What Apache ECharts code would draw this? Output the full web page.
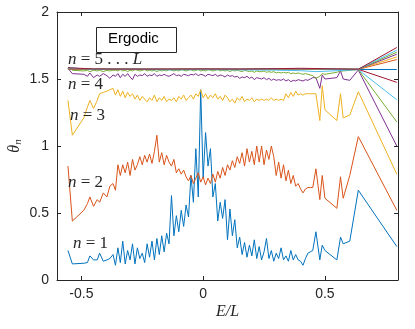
<!DOCTYPE html>
<html>
<head>
<meta charset="utf-8">
<script src="https://cdn.jsdelivr.net/npm/echarts@6/dist/echarts.min.js"></script>
<style>
	html, body { margin: 0; padding: 0; background: #fff; }
	#chart { width: 415px; height: 329px; }
</style>
</head>
<body>
<div id="chart"></div>
<script>
// E/L 取样点 (n = 1..5 共用)
var energy = [-0.555, -0.537, -0.49, -0.475, -0.465, -0.45, -0.435, -0.425, -0.41, -0.395, -0.383, -0.37,
	-0.36, -0.35, -0.34, -0.33, -0.32, -0.31, -0.3, -0.29, -0.28, -0.27,
	-0.26, -0.25, -0.24, -0.23, -0.22, -0.21, -0.2, -0.19, -0.18, -0.17,
	-0.16, -0.15, -0.14, -0.13, -0.12, -0.11, -0.1, -0.09, -0.08, -0.07,
	-0.06, -0.05, -0.04, -0.03, -0.02, -0.01, 0, 0.01, 0.02, 0.03,
	0.04, 0.05, 0.06, 0.07, 0.08, 0.09, 0.1, 0.11, 0.12, 0.13,
	0.14, 0.15, 0.16, 0.17, 0.18, 0.19, 0.2, 0.21, 0.22, 0.23,
	0.24, 0.25, 0.26, 0.27, 0.28, 0.29, 0.3, 0.31, 0.32, 0.33,
	0.34, 0.35, 0.36, 0.37, 0.38, 0.39, 0.4, 0.41, 0.42, 0.43, 0.44, 0.45,
	0.463, 0.479, 0.489, 0.5, 0.549, 0.564, 0.575, 0.602, 0.637, 0.795];

var theta1 = [0.22, 0.12, 0.125, 0.13, 0.18, 0.15, 0.15, 0.20, 0.14, 0.15, 0.16, 0.19,
	0.11, 0.24, 0.13, 0.29, 0.12, 0.22, 0.15, 0.27, 0.12, 0.24,
	0.16, 0.20, 0.13, 0.27, 0.17, 0.29, 0.15, 0.31, 0.19, 0.33,
	0.21, 0.35, 0.27, 0.63, 0.33, 0.48, 0.36, 0.52, 0.40, 0.56,
	0.47, 0.78, 0.58, 0.98, 0.62, 1.42, 0.76, 1.10, 0.85, 0.98,
	0.62, 0.72, 0.44, 0.58, 0.46, 0.60, 0.30, 0.53, 0.33, 0.45,
	0.24, 0.32, 0.19, 0.28, 0.17, 0.26, 0.18, 0.30, 0.16, 0.25,
	0.15, 0.21, 0.31, 0.16, 0.22, 0.14, 0.20, 0.16, 0.24, 0.15,
	0.18, 0.14, 0.22, 0.15, 0.19, 0.15, 0.14, 0.11, 0.16, 0.20, 0.21, 0.22,
	0.36, 0.15, 0.26, 0.22, 0.15, 0.32, 0.27, 0.29, 0.67, 0.25];

var theta2 = [0.85, 0.44, 0.52, 0.57, 0.62, 0.55, 0.60, 0.58, 0.65, 0.62, 0.70, 0.72,
	0.67, 0.86, 0.78, 0.86, 0.80, 0.88, 0.78, 0.90, 0.82, 0.86,
	0.92, 0.86, 0.93, 0.88, 0.94, 0.87, 0.96, 1.08, 0.88, 0.95,
	0.86, 0.93, 0.88, 0.85, 0.90, 0.80, 0.83, 0.79, 0.82, 0.77,
	0.74, 0.78, 0.72, 0.76, 0.80, 0.73, 0.77, 0.71, 0.76, 0.72,
	0.79, 0.73, 0.81, 0.76, 0.84, 0.78, 0.86, 0.82, 0.89, 0.84,
	0.92, 0.87, 0.95, 0.85, 0.98, 0.88, 0.96, 0.86, 1.00, 0.88,
	1.00, 0.86, 0.97, 0.90, 1.00, 0.92, 0.78, 0.88, 0.76, 0.86,
	0.74, 0.82, 0.72, 0.78, 0.70, 0.72, 0.68, 0.65, 0.68, 0.69, 0.69, 0.69,
	0.83, 0.60, 0.78, 0.61, 0.535, 0.77, 0.61, 0.78, 1.07, 0.52];

var theta3 = [1.34, 1.08, 1.21, 1.29, 1.34, 1.28, 1.34, 1.39, 1.40, 1.41, 1.42, 1.43,
	1.38, 1.42, 1.37, 1.41, 1.36, 1.40, 1.37, 1.39, 1.35, 1.38,
	1.34, 1.37, 1.35, 1.33, 1.36, 1.34, 1.38, 1.33, 1.36, 1.34,
	1.37, 1.33, 1.35, 1.34, 1.36, 1.33, 1.37, 1.35, 1.38, 1.34,
	1.36, 1.38, 1.35, 1.39, 1.37, 1.42, 1.36, 1.39, 1.35, 1.38,
	1.36, 1.39, 1.35, 1.37, 1.34, 1.38, 1.36, 1.33, 1.35, 1.32,
	1.36, 1.34, 1.37, 1.33, 1.35, 1.34, 1.36, 1.33, 1.35, 1.34,
	1.35, 1.34, 1.35, 1.34, 1.36, 1.34, 1.35, 1.34, 1.35, 1.34,
	1.39, 1.36, 1.40, 1.37, 1.41, 1.38, 1.39, 1.38, 1.39, 1.39, 1.39, 1.39,
	1.39, 1.19, 1.45, 1.27, 1.19, 1.39, 1.21, 1.23, 1.405, 0.79];

var theta4 = [1.58, 1.54, 1.535, 1.52, 1.545, 1.51, 1.53, 1.52, 1.54, 1.525, 1.505, 1.53,
	1.52, 1.54, 1.51, 1.535, 1.52, 1.54, 1.515, 1.495, 1.535, 1.52,
	1.53, 1.525, 1.54, 1.52, 1.53, 1.525, 1.54, 1.52, 1.53, 1.525,
	1.535, 1.525, 1.52, 1.53, 1.54, 1.525, 1.53, 1.52, 1.535, 1.53,
	1.525, 1.535, 1.53, 1.54, 1.525, 1.535, 1.53, 1.52, 1.535, 1.53,
	1.525, 1.535, 1.52, 1.53, 1.525, 1.515, 1.53, 1.52, 1.525, 1.515,
	1.52, 1.505, 1.515, 1.51, 1.52, 1.505, 1.515, 1.495, 1.51, 1.505,
	1.50, 1.51, 1.495, 1.505, 1.49, 1.50, 1.49, 1.495, 1.49, 1.50,
	1.485, 1.495, 1.48, 1.49, 1.485, 1.495, 1.49, 1.485, 1.495, 1.49, 1.50, 1.51,
	1.51, 1.43, 1.53, 1.50, 1.51, 1.56, 1.50, 1.49, 1.567, 1.0];

var theta5 = [1.59, 1.565, 1.56, 1.565, 1.555, 1.565, 1.56, 1.565, 1.555, 1.565, 1.56, 1.565,
	1.565, 1.56, 1.57, 1.56, 1.565, 1.555, 1.565, 1.56, 1.57, 1.565,
	1.56, 1.565, 1.57, 1.56, 1.565, 1.56, 1.565, 1.555, 1.565, 1.56,
	1.565, 1.56, 1.57, 1.565, 1.56, 1.565, 1.56, 1.57, 1.565, 1.56,
	1.565, 1.57, 1.56, 1.565, 1.57, 1.56, 1.565, 1.56, 1.57, 1.565,
	1.56, 1.565, 1.57, 1.56, 1.565, 1.56, 1.565, 1.555, 1.565, 1.56,
	1.565, 1.56, 1.555, 1.565, 1.56, 1.555, 1.56, 1.55, 1.56, 1.555,
	1.555, 1.56, 1.55, 1.555, 1.55, 1.555, 1.545, 1.55, 1.545, 1.55,
	1.545, 1.55, 1.54, 1.545, 1.54, 1.545, 1.54, 1.535, 1.54, 1.535, 1.53, 1.525,
	1.505, 1.52, 1.54, 1.535, 1.55, 1.56, 1.56, 1.565, 1.57, 1.18];

// n = 6 ... 14 几乎是平的，取稀疏点
var energyFlat = [-0.555, -0.45, -0.3, -0.15, 0, 0.15, 0.3, 0.4, 0.463, 0.55, 0.637, 0.795];
var theta6 = [1.585, 1.57, 1.572, 1.568, 1.57, 1.568, 1.566, 1.562, 1.555, 1.562, 1.57, 1.345];
var theta7 = [1.575, 1.572, 1.573, 1.572, 1.574, 1.572, 1.575, 1.578, 1.575, 1.573, 1.572, 1.475];
var theta8 = [1.571, 1.571, 1.571, 1.571, 1.571, 1.571, 1.571, 1.571, 1.571, 1.571, 1.571, 1.571];
var theta9 = [1.574, 1.572, 1.572, 1.573, 1.572, 1.572, 1.573, 1.574, 1.573, 1.572, 1.572, 1.645];
var theta10 = [1.576, 1.573, 1.572, 1.572, 1.573, 1.572, 1.574, 1.575, 1.574, 1.573, 1.572, 1.665];
var theta11 = [1.578, 1.573, 1.573, 1.572, 1.573, 1.573, 1.574, 1.576, 1.575, 1.573, 1.572, 1.685];
var theta12 = [1.58, 1.574, 1.573, 1.573, 1.573, 1.573, 1.575, 1.577, 1.576, 1.574, 1.573, 1.70];
var theta13 = [1.582, 1.574, 1.574, 1.573, 1.574, 1.573, 1.576, 1.578, 1.577, 1.574, 1.573, 1.715];
var theta14 = [1.584, 1.575, 1.574, 1.574, 1.575, 1.574, 1.577, 1.58, 1.578, 1.575, 1.573, 1.735];

var xTicks = [-0.5, 0, 0.5];
var lineColors = ['#0072BD', '#D95319', '#EDB120', '#7E2F8E', '#77AC30', '#4DBEEE', '#A2142F'];

var denseSets = [theta1, theta2, theta3, theta4, theta5];
var flatSets = [theta6, theta7, theta8, theta9, theta10, theta11, theta12, theta13, theta14];

function pairUp(xs, ys) {
	return ys.map(function(v, i) {
		return [xs[i], v];
	});
}

var seriesArr = [];
denseSets.concat(flatSets).forEach(function(ys, idx) {
	var xs = idx < denseSets.length ? energy : energyFlat;
	seriesArr.push({
		type: 'line',
		data: pairUp(xs, ys),
		showSymbol: false,
		symbol: 'none',
		animation: false,
		lineStyle: {
			color: lineColors[idx % 7],
			width: 1
		},
		z: 2 + idx
	});
});

var axisColor = '#262626';
var tickFont = {
	color: axisColor,
	fontFamily: 'Liberation Sans',
	fontSize: 14
};
var mathFont = 'Liberation Serif';

function mathLabel(text, left, cy) {
	return {
		type: 'text',
		left: left,
		top: cy - 10,
		z: 100,
		style: {
			text: text,
			fill: '#262626',
			fontFamily: mathFont,
			fontSize: 17,
			rich: {
				i: { fontStyle: 'italic', fontFamily: mathFont, fontSize: 17, fill: '#262626' }
			}
		}
	};
}

echarts.init(document.getElementById('chart')).setOption({
	animation: false,
	grid: {
		left: 57,
		right: 17,
		top: 12,
		bottom: 49,
		outerBoundsMode: 'none',
		containLabel: false
	},
	xAxis: [{
		type: 'value',
		min: -0.6,
		max: 0.8,
		name: 'E/L',
		nameLocation: 'middle',
		nameGap: 24,
		nameMoveOverlap: false,
		nameTextStyle: {
			fontFamily: mathFont,
			fontStyle: 'italic',
			fontSize: 16,
			color: axisColor
		},
		splitLine: { show: false },
		axisLine: { show: true, onZero: false, lineStyle: { color: axisColor, width: 1 } },
		axisTick: { show: true, inside: true, length: 4, customValues: xTicks, lineStyle: { color: axisColor } },
		axisLabel: Object.assign({ margin: 7, customValues: xTicks, formatter: function(v) { return String(v); } }, tickFont)
	}, {
		type: 'value',
		position: 'top',
		min: -0.6,
		max: 0.8,
		splitLine: { show: false },
		axisLine: { show: true, onZero: false, lineStyle: { color: axisColor, width: 1 } },
		axisTick: { show: true, inside: true, length: 4, customValues: xTicks, lineStyle: { color: axisColor } },
		axisLabel: { show: false }
	}],
	yAxis: [{
		type: 'value',
		min: 0,
		max: 2,
		interval: 0.5,
		name: '{t|θ}{s|n}',
		nameLocation: 'middle',
		nameGap: 33,
		nameRotate: 90,
		nameMoveOverlap: false,
		nameTextStyle: {
			rich: {
				t: { fontFamily: mathFont, fontStyle: 'italic', fontSize: 16, color: axisColor },
				s: { fontFamily: mathFont, fontStyle: 'italic', fontSize: 11, color: axisColor, padding: [8, 0, 0, 0] }
			}
		},
		splitLine: { show: false },
		axisLine: { show: true, onZero: false, lineStyle: { color: axisColor, width: 1 } },
		axisTick: { show: true, inside: true, length: 4, lineStyle: { color: axisColor } },
		axisLabel: Object.assign({ margin: 8 }, tickFont)
	}, {
		type: 'value',
		position: 'right',
		min: 0,
		max: 2,
		interval: 0.5,
		splitLine: { show: false },
		axisLine: { show: true, onZero: false, lineStyle: { color: axisColor, width: 1 } },
		axisTick: { show: true, inside: true, length: 4, lineStyle: { color: axisColor } },
		axisLabel: { show: false }
	}],
	graphic: [
		{
			type: 'rect',
			left: 96,
			top: 27,
			z: 100,
			shape: { width: 80, height: 25 },
			style: { fill: '#fff', stroke: '#262626', lineWidth: 1 }
		},
		{
			type: 'text',
			left: 108,
			top: 31,
			z: 101,
			style: {
				text: 'Ergodic',
				fill: '#000',
				fontFamily: 'Liberation Sans',
				fontSize: 15
			}
		},
		mathLabel('{i|n} = 5 . . . {i|L}', 68, 61),
		mathLabel('{i|n} = 4', 68, 86),
		mathLabel('{i|n} = 3', 70, 117),
		mathLabel('{i|n} = 2', 68, 184),
		mathLabel('{i|n} = 1', 73, 245)
	],
	series: seriesArr
});
</script>
</body>
</html>
